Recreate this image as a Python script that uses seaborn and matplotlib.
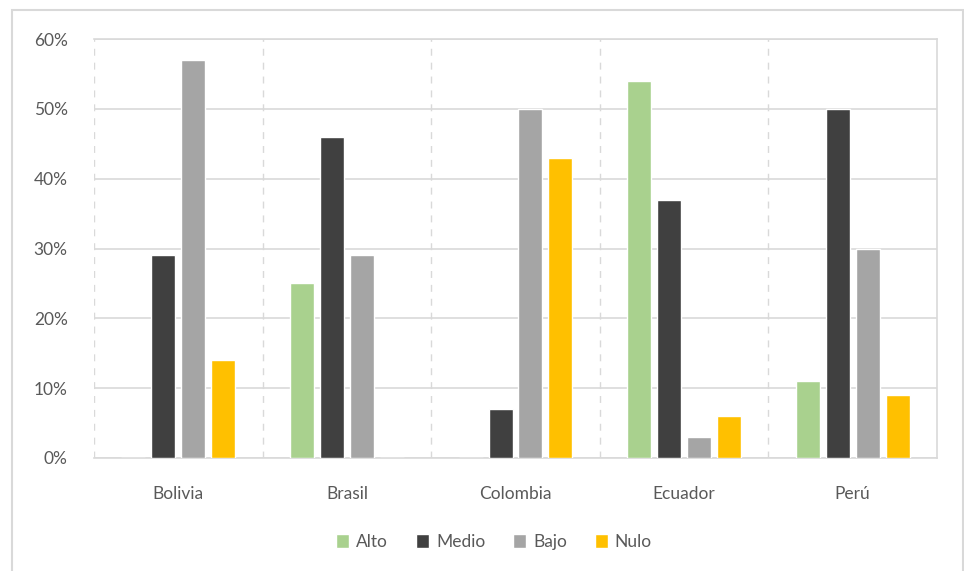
import matplotlib
matplotlib.use("Agg")
import matplotlib.pyplot as plt
from matplotlib.patches import Rectangle
from matplotlib.ticker import PercentFormatter
import pandas as pd
import seaborn as sns

# Data
countries = ["Bolivia", "Brasil", "Colombia", "Ecuador", "Perú"]
levels = ["Alto", "Medio", "Bajo", "Nulo"]
alto = [0, 25, 0, 54, 11]
medio = [29, 46, 7, 37, 50]
bajo = [57, 29, 50, 3, 30]
nulo = [14, 0, 43, 6, 9]
yticks = [0, 10, 20, 30, 40, 50, 60]

colors = ["#A9D18E", "#404040", "#A5A5A5", "#FFC000"]
text_color = "#595959"
grid_color = "#D9D9D9"

rows = []
for lvl, vals in zip(levels, [alto, medio, bajo, nulo]):
    for c, v in zip(countries, vals):
        rows.append({"País": c, "Nivel": lvl, "Valor": v})
df = pd.DataFrame(rows)

sns.set_theme(style="white")
plt.rcParams["font.family"] = ["Lato", "DejaVu Sans"]

W, H = 964, 571
fig = plt.figure(figsize=(W / 100, H / 100), dpi=100)
fig.patch.set_facecolor("white")

# outer chart frame
fig.patches.append(Rectangle((12 / W, -0.01), (963 - 12) / W, (571 - 10) / H + 0.01,
                             transform=fig.transFigure, fill=False,
                             edgecolor=grid_color, linewidth=1.5, zorder=0))

ax = fig.add_axes([94 / W, (571 - 458) / H, (937 - 94) / W, (458 - 39) / H])

sns.barplot(data=df, x="País", y="Valor", hue="Nivel", order=countries,
            hue_order=levels, palette=colors, width=0.71, gap=0.2,
            saturation=1, ax=ax, legend=True, zorder=3)

ax.set_xlim(-0.5, len(countries) - 0.5)
ax.set_ylim(0, 60)
ax.set_yticks(yticks)
ax.yaxis.set_major_formatter(PercentFormatter(100, decimals=0))
ax.set_xlabel("")
ax.set_ylabel("")

# horizontal gridlines
ax.yaxis.grid(True, color=grid_color, linewidth=1.2, zorder=0)
ax.set_axisbelow(True)
# dashed separators between countries
for i in range(len(countries)):
    ax.axvline(i - 0.5, color=grid_color, linestyle=(0, (5, 5)), linewidth=1.0, zorder=1)

for side in ["top", "right", "bottom"]:
    ax.spines[side].set_visible(True)
    ax.spines[side].set_color(grid_color)
    ax.spines[side].set_linewidth(1.2)
ax.spines["left"].set_visible(False)

ax.tick_params(axis="both", length=0, labelsize=12.5, colors=text_color)
ax.tick_params(axis="x", pad=20)
ax.tick_params(axis="y", pad=19)

handles, labels = ax.get_legend_handles_labels()
ax.legend_.remove()
fig.legend(handles, labels, loc="center", bbox_to_anchor=(494 / W, 1 - 542 / H),
           ncol=4, frameon=False, fontsize=12.5, handlelength=0.75, handleheight=0.8,
           handletextpad=0.4, columnspacing=1.6, labelcolor=text_color)

fig.savefig("out.png", dpi=100, facecolor="white")
